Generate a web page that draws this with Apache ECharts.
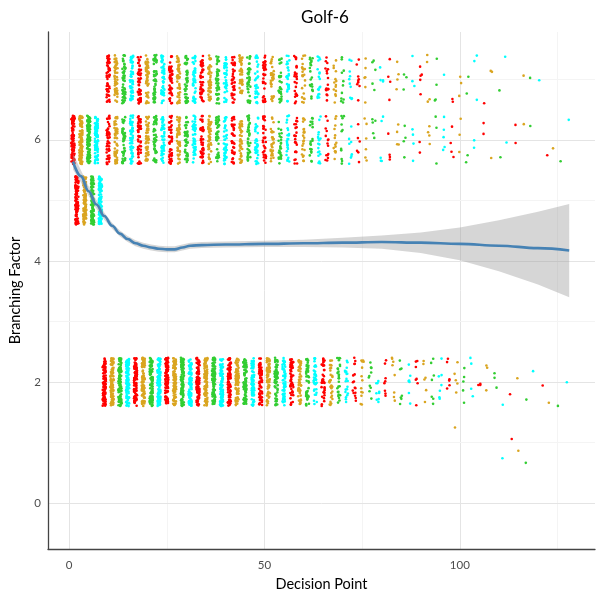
<!DOCTYPE html>
<html>
<head>
<meta charset="utf-8">
<title>Golf-6</title>
<script src="https://cdn.jsdelivr.net/npm/echarts@6/dist/echarts.min.js"></script>
<style>
  html, body { margin: 0; padding: 0; background: #fff; }
  #chart { width: 600px; height: 600px; }
</style>
</head>
<body>
<div id="chart"></div>
<script>
// opening: odd steps all at branching factor 6, even steps at 5
const openingOddX = [1, 3, 5, 7];
const openingBF6 = [100, 100, 100, 100];
const openingEvenX = [2, 4, 6, 8];
const openingBF5 = [100, 100, 100, 100];

// from step 9 on, odd steps sit at BF 2 (a few at 1 late in the game)
const oddX = [9, 11, 13, 15, 17, 19, 21, 23, 25, 27, 29, 31, 33, 35, 37, 39, 41, 43, 45, 47,
  49, 51, 53, 55, 57, 59, 61, 63, 65, 67, 69, 71, 73, 75, 77, 79, 81, 83, 85, 87,
  89, 91, 93, 95, 97, 99, 101, 103, 105, 107, 109, 111, 113, 115, 117, 119, 121, 123, 125, 127];
const countBF2 = [100, 100, 100, 100, 99, 99, 98, 98, 97, 96,
  95, 93, 91, 89, 87, 85, 82, 78, 74, 70,
  66, 62, 58, 54, 50, 46, 42, 38, 34, 30,
  26, 20, 16, 13, 10, 9, 8, 8, 7, 7,
  7, 6, 7, 7, 6, 5, 5, 4, 3, 3,
  3, 1, 1, 1, 1, 1, 1, 1, 1, 1];
const bf1X = [99, 111, 113, 115, 117];
const countBF1 = [1, 1, 1, 1, 1];

// even steps split between BF 6 and BF 7
const evenX = [10, 12, 14, 16, 18, 20, 22, 24, 26, 28, 30, 32, 34, 36, 38, 40, 42, 44, 46, 48,
  50, 52, 54, 56, 58, 60, 62, 64, 66, 68, 70, 72, 74, 76, 78, 80, 82, 84, 86, 88,
  90, 92, 94, 96, 98, 100, 102, 104, 106, 108, 110, 112, 114, 116, 118, 120, 122, 124, 126, 128];
const countBF7 = [52, 49, 53, 50, 51, 49, 52, 48, 50, 49,
  48, 47, 46, 45, 44, 43, 41, 39, 37, 35,
  33, 31, 29, 27, 25, 22, 21, 18, 17, 14,
  11, 10, 9, 6, 5, 4, 4, 4, 3, 3,
  5, 4, 4, 1, 2, 3, 2, 3, 1, 2,
  1, 1, 0, 1, 1, 1, 0, 0, 0, 0];
const countBF6 = [48, 51, 47, 49, 48, 49, 46, 49, 46, 46,
  46, 45, 44, 43, 42, 41, 39, 37, 35, 33,
  31, 29, 27, 25, 23, 22, 19, 18, 15, 14,
  11, 8, 6, 6, 5, 5, 4, 4, 4, 4,
  2, 4, 3, 5, 4, 3, 2, 2, 2, 1,
  1, 1, 2, 1, 1, 0, 1, 1, 1, 1];

// loess fit and its confidence band
const smoothX = [1, 3, 5, 7, 9, 11, 13, 15, 17, 19, 21, 23, 25, 27, 29, 31, 34, 40, 50, 60, 70, 80, 90, 100, 110, 120, 128];
const smoothFit = [5.64, 5.40, 5.15, 4.93, 4.74, 4.58, 4.45, 4.36, 4.29, 4.25, 4.22, 4.20, 4.19, 4.19, 4.22, 4.25, 4.26, 4.27, 4.28, 4.29, 4.30, 4.31, 4.30, 4.28, 4.25, 4.21, 4.17];
const smoothLow = [5.51, 5.30, 5.07, 4.86, 4.68, 4.53, 4.40, 4.31, 4.24, 4.20, 4.17, 4.15, 4.14, 4.14, 4.17, 4.20, 4.21, 4.22, 4.23, 4.23, 4.22, 4.20, 4.13, 4.01, 3.83, 3.61, 3.40];
const smoothHigh = [5.77, 5.50, 5.23, 5.00, 4.80, 4.63, 4.50, 4.41, 4.34, 4.30, 4.27, 4.25, 4.24, 4.24, 4.27, 4.30, 4.31, 4.32, 4.33, 4.35, 4.38, 4.42, 4.47, 4.55, 4.67, 4.81, 4.94];

const xMajor = [0, 50, 100];
const xMinor = [25, 75, 125];
const yMajor = [0, 2, 4, 6];
const yMinor = [1, 3, 5, 7];

const palette = ['#FF0000', '#DAA520', '#32CD32', '#00FFFF'];
const font = 'Lato, "Noto Sans", sans-serif';

// jitter like position_jitter(width = .4, height = .4), fixed seed
function mulberry32(a) {
  return function () {
    a |= 0; a = a + 0x6D2B79F5 | 0;
    let t = Math.imul(a ^ a >>> 15, 1 | a);
    t = t + Math.imul(t ^ t >>> 7, 61 | t) ^ t;
    return ((t ^ t >>> 14) >>> 0) / 4294967296;
  };
}
const rand = mulberry32(6);
const points = [[], [], [], []];
function addColumn(x, level, count) {
  const c = Math.floor((x - 1) / 2) % 4;
  for (let i = 0; i < count; i++) {
    points[c].push([x + rand() * 0.8 - 0.4, level + rand() * 0.8 - 0.4]);
  }
}
openingOddX.forEach((x, i) => addColumn(x, 6, openingBF6[i]));
openingEvenX.forEach((x, i) => addColumn(x, 5, openingBF5[i]));
oddX.forEach((x, i) => addColumn(x, 2, countBF2[i]));
bf1X.forEach((x, i) => addColumn(x, 1, countBF1[i]));
evenX.forEach((x, i) => {
  addColumn(x, 6, countBF6[i]);
  addColumn(x, 7, countBF7[i]);
});

const gridLines = [];
xMajor.forEach(v => gridLines.push({ xAxis: v, lineStyle: { color: '#E4E4E4', width: 1, type: 'solid' } }));
xMinor.forEach(v => gridLines.push({ xAxis: v, lineStyle: { color: '#F4F4F4', width: 1, type: 'solid' } }));
yMajor.forEach(v => gridLines.push({ yAxis: v, lineStyle: { color: '#E4E4E4', width: 1, type: 'solid' } }));
yMinor.forEach(v => gridLines.push({ yAxis: v, lineStyle: { color: '#F4F4F4', width: 1, type: 'solid' } }));

const chart = echarts.init(document.getElementById('chart'));

// gridlines sit under everything else
const series = [{
  type: 'line',
  data: [],
  z: 0,
  silent: true,
  markLine: {
    z: 0,
    silent: true,
    symbol: 'none',
    animation: false,
    label: { show: false },
    emphasis: { disabled: true },
    data: gridLines
  }
}];
points.forEach((pts, i) => {
  series.push({
    type: 'scatter',
    data: pts,
    z: 3,
    symbol: 'circle',
    symbolSize: 2.6,
    large: false,
    progressive: 0,
    itemStyle: { color: palette[i], opacity: 1 },
    emphasis: { disabled: true },
    silent: true
  });
});
// confidence band as one polygon through the axis scales
series.push({
  type: 'custom',
  data: [0],
  z: 4,
  silent: true,
  clip: true,
  renderItem: function (params, api) {
    const upper = smoothX.map((x, i) => api.coord([x, smoothHigh[i]]));
    const lower = smoothX.map((x, i) => api.coord([x, smoothLow[i]])).reverse();
    return {
      type: 'polygon',
      shape: { points: upper.concat(lower) },
      style: { fill: 'rgba(153,153,153,0.4)', stroke: 'none' }
    };
  }
}, {
  type: 'line',
  data: smoothX.map((x, i) => [x, smoothFit[i]]),
  z: 5,
  symbol: 'none',
  smooth: 0.4,
  smoothMonotone: 'x',
  lineStyle: { color: '#4682B4', width: 2.6 },
  silent: true
});

chart.setOption({
  animation: false,
  backgroundColor: '#fff',
  title: {
    text: 'Golf-6',
    left: 320,
    top: 4,
    textAlign: 'center',
    textStyle: { fontFamily: font, fontSize: 17, fontWeight: 'normal', color: '#000' }
  },
  grid: { left: 45, right: 5, top: 32, bottom: 51, containLabel: false },
  xAxis: {
    type: 'value',
    min: -5.4,
    max: 134.6,
    axisLine: { show: true, onZero: false, lineStyle: { color: '#444', width: 1.3 } },
    axisTick: { show: false },
    splitLine: { show: false },
    axisLabel: { customValues: xMajor, color: '#4D4D4D', fontSize: 11.5, margin: 10, fontFamily: font },
    name: 'Decision Point',
    nameLocation: 'middle',
    nameGap: 28,
    nameTextStyle: { fontFamily: font, fontSize: 14.5, color: '#000' }
  },
  yAxis: {
    type: 'value',
    min: -0.76,
    max: 7.78,
    axisLine: { show: true, onZero: false, lineStyle: { color: '#444', width: 1.3 } },
    axisTick: { show: false },
    splitLine: { show: false },
    axisLabel: { customValues: yMajor, color: '#4D4D4D', fontSize: 11.5, margin: 7, fontFamily: font },
    name: 'Branching Factor',
    nameLocation: 'middle',
    nameGap: 25,
    nameTextStyle: { fontFamily: font, fontSize: 14.5, color: '#000' }
  },
  series: series
});
</script>
</body>
</html>
